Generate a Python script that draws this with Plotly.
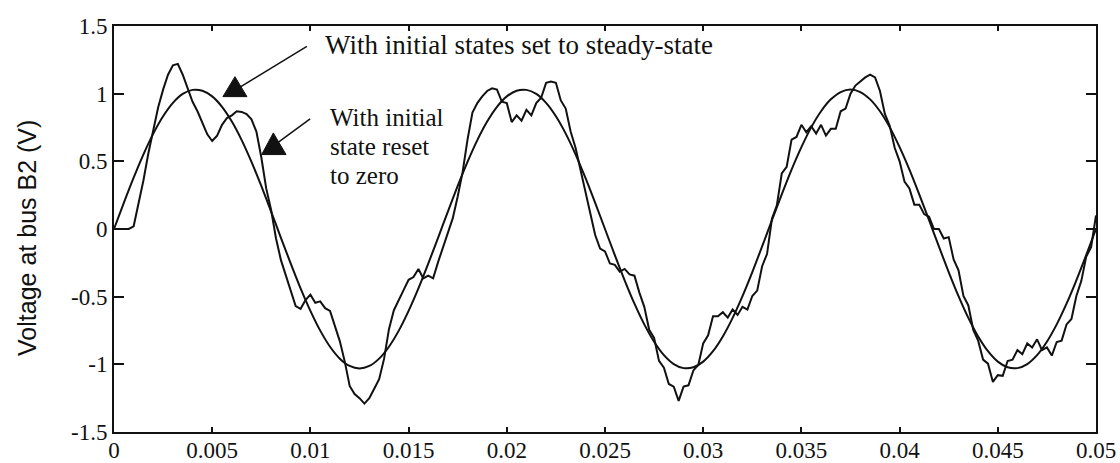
import plotly.graph_objects as go

# ---------------- data ----------------
# Curve "initial state reset to zero": sampled every 0.25 ms from t = 0
reset_dt = 0.00025
reset_v = [
    0, 0, 0, 0, 0.02, 0.18, 0.36, 0.56, 0.74, 0.90,
    1.03, 1.14, 1.21, 1.22, 1.14, 1.04, 0.94, 0.87, 0.78, 0.70,
    0.65, 0.69, 0.77, 0.82, 0.84, 0.87, 0.865, 0.85, 0.81, 0.72,
    0.53, 0.30, 0.14, -0.07, -0.23, -0.34, -0.45, -0.57, -0.59, -0.525,
    -0.485, -0.545, -0.535, -0.585, -0.605, -0.72, -0.83, -0.98, -1.16, -1.22,
    -1.25, -1.29, -1.25, -1.18, -1.11, -0.96, -0.74, -0.60, -0.52, -0.45,
    -0.375, -0.355, -0.295, -0.365, -0.345, -0.365, -0.245, -0.14, -0.04, 0.08,
    0.24, 0.42, 0.66, 0.86, 0.93, 0.98, 1.02, 1.04, 1.03, 0.94,
    0.93, 0.79, 0.84, 0.80, 0.88, 0.84, 0.93, 0.97, 1.08, 1.09,
    1.08, 0.95, 0.89, 0.72, 0.60, 0.44, 0.27, 0.10, -0.045, -0.145,
    -0.165, -0.255, -0.265, -0.315, -0.295, -0.335, -0.345, -0.47, -0.575, -0.745,
    -0.805, -0.975, -1.025, -1.145, -1.165, -1.27, -1.165, -1.155, -1.045, -1.005,
    -0.845, -0.785, -0.645, -0.645, -0.615, -0.655, -0.595, -0.635, -0.575, -0.595,
    -0.495, -0.455, -0.275, -0.185, 0.075, 0.175, 0.41, 0.46, 0.66, 0.68,
    0.77, 0.715, 0.76, 0.705, 0.77, 0.69, 0.74, 0.74, 0.87, 0.89,
    1.00, 1.06, 1.09, 1.12, 1.14, 1.12, 1.02, 0.85, 0.76, 0.60,
    0.50, 0.35, 0.30, 0.18, 0.18, 0.11, 0.09, 0.00, 0.00, -0.07,
    -0.06, -0.225, -0.305, -0.495, -0.565, -0.745, -0.825, -0.965, -0.995, -1.13,
    -1.08, -1.085, -0.975, -0.965, -0.895, -0.925, -0.845, -0.875, -0.815, -0.895,
    -0.875, -0.935, -0.835, -0.825, -0.705, -0.665, -0.495, -0.385, -0.205, -0.135,
    0.10,
]

# Curve "initial states set to steady-state": sampled every 0.5 ms from t = 0
steady_dt = 0.0005
steady_v = [
    0.000, 0.193, 0.379, 0.552, 0.705, 0.833, 0.932, 0.998, 1.028, 1.022,
    0.980, 0.903, 0.794, 0.657, 0.496, 0.318, 0.129, -0.065, -0.256, -0.439,
    -0.605, -0.751, -0.870, -0.958, -1.012, -1.030, -1.012, -0.958, -0.870, -0.751,
    -0.605, -0.439, -0.256, -0.065, 0.129, 0.318, 0.496, 0.657, 0.794, 0.903,
    0.980, 1.022, 1.028, 0.998, 0.932, 0.833, 0.705, 0.552, 0.379, 0.193,
    0.000, -0.193, -0.379, -0.552, -0.705, -0.833, -0.932, -0.998, -1.028, -1.022,
    -0.980, -0.903, -0.794, -0.657, -0.496, -0.318, -0.129, 0.065, 0.256, 0.439,
    0.605, 0.751, 0.870, 0.958, 1.012, 1.030, 1.012, 0.958, 0.870, 0.751,
    0.605, 0.439, 0.256, 0.065, -0.129, -0.318, -0.496, -0.657, -0.794, -0.903,
    -0.980, -1.022, -1.028, -0.998, -0.932, -0.833, -0.705, -0.552, -0.379, -0.193,
    0.000,
]

x_tick_vals = [0, 0.005, 0.01, 0.015, 0.02, 0.025, 0.03, 0.035, 0.04, 0.045, 0.05]
x_tick_text = ["0", "0.005", "0.01", "0.015", "0.02", "0.025", "0.03",
               "0.035", "0.04", "0.045", "0.05"]
y_tick_vals = [-1.5, -1, -0.5, 0, 0.5, 1, 1.5]
y_tick_text = ["-1.5", "-1", "-0.5", "0", "0.5", "1", "1.5"]

y_title = "Voltage at bus B2 (V)"
label_steady = "With initial states set to steady-state"
label_reset_lines = ["With initial", "state reset", "to zero"]

# ---------------- figure ----------------
reset_t = [round(i * reset_dt, 6) for i in range(len(reset_v))]
steady_t = [round(i * steady_dt, 6) for i in range(len(steady_v))]

SERIF = "Liberation Serif, Times New Roman, serif"
SANS = "Liberation Sans, Arial, sans-serif"
INK = "#111111"

fig = go.Figure()
fig.add_trace(go.Scatter(x=steady_t, y=steady_v, mode="lines",
                         line=dict(color=INK, width=2, shape="spline", smoothing=0.8),
                         name="steady-state", hoverinfo="skip"))
fig.add_trace(go.Scatter(x=reset_t, y=reset_v, mode="lines",
                         line=dict(color=INK, width=2),
                         name="reset", hoverinfo="skip"))

# callout arrows (line + upright filled triangle), in data coordinates
shapes = [
    dict(type="line", xref="x", yref="y", x0=0.00982, y0=1.349, x1=0.00621, y1=1.03,
         line=dict(color=INK, width=1.5)),
    dict(type="path", xref="x", yref="y",
         path="M 0.006158,1.1255 L 0.005546,0.978 L 0.00677,0.978 Z",
         fillcolor=INK, line=dict(color=INK, width=1)),
    dict(type="line", xref="x", yref="y", x0=0.009985, y0=0.813, x1=0.0082, y1=0.624,
         line=dict(color=INK, width=1.5)),
    dict(type="path", xref="x", yref="y",
         path="M 0.008112,0.710 L 0.00752,0.550 L 0.00876,0.550 Z",
         fillcolor=INK, line=dict(color=INK, width=1)),
]

annotations = [
    dict(text=label_steady, x=0.01063, y=1.36, xref="x", yref="y",
         xanchor="left", yanchor="middle", showarrow=False,
         font=dict(family=SERIF, size=27, color=INK)),
]
reset_label_y = [0.823, 0.609, 0.395]
for line_text, yy in zip(label_reset_lines, reset_label_y):
    annotations.append(dict(text=line_text, x=0.0109, y=yy, xref="x", yref="y",
                            xanchor="left", yanchor="middle", showarrow=False,
                            font=dict(family=SERIF, size=25, color=INK)))
annotations.append(dict(text=y_title, x=-0.0886, y=0.478, xref="paper", yref="paper",
                        textangle=-90, xanchor="center", yanchor="middle",
                        showarrow=False, font=dict(family=SANS, size=25, color=INK)))

axis_common = dict(showline=True, linecolor=INK, linewidth=2, mirror="ticks",
                   ticks="inside", tickcolor=INK, tickwidth=2, showgrid=False,
                   zeroline=False, automargin=False,
                   tickfont=dict(family=SERIF, size=23, color=INK))

fig.update_layout(
    width=1120, height=463,
    margin=dict(l=114, r=24, t=26, b=31),
    plot_bgcolor="white", paper_bgcolor="white",
    showlegend=False, hovermode=False,
    shapes=shapes, annotations=annotations,
    xaxis=dict(range=[0, 0.05], tickvals=x_tick_vals, ticktext=x_tick_text,
               ticklen=5, ticklabelstandoff=-4, **axis_common),
    yaxis=dict(range=[-1.5, 1.5], tickvals=y_tick_vals, ticktext=y_tick_text,
               ticklen=10, **axis_common),
)

fig.write_html("out.html", config={"displayModeBar": False, "staticPlot": True},
               post_script="document.body.style.margin='0';document.body.style.overflow='hidden';")
